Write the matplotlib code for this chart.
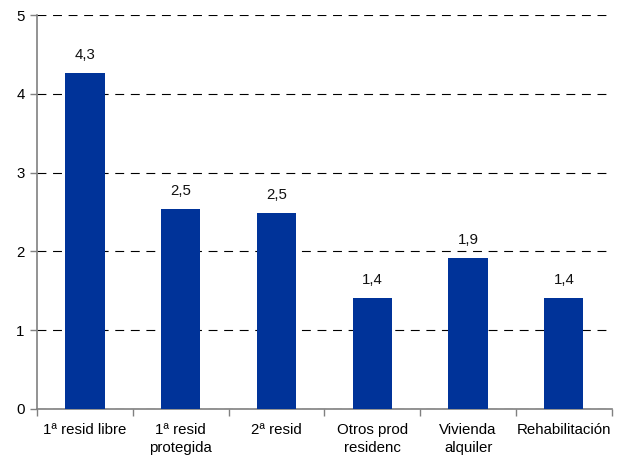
import matplotlib
matplotlib.use("Agg")
import matplotlib.pyplot as plt
import numpy as np

categories = ["1ª resid libre", "1ª resid\nprotegida", "2ª resid",
              "Otros prod\nresidenc", "Vivienda\nalquiler", "Rehabilitación"]
values = [4.26, 2.54, 2.49, 1.41, 1.92, 1.41]
y_ticks = [0, 1, 2, 3, 4, 5]

plt.rcParams["font.family"] = ["Liberation Sans", "DejaVu Sans"]
FS = 10.8

fig = plt.figure(figsize=(6.2, 4.69), dpi=100)
ax = fig.add_axes([0.0597, 0.128, 0.927, 0.84])

x = np.arange(len(categories))
bars = ax.bar(x, values, width=0.41, color="#003399", zorder=3)

for xi, v in zip(x, values):
    ax.annotate(f"{v:.1f}".replace(".", ","), (xi, v), xytext=(0, 8),
                textcoords="offset points", ha="center", va="bottom",
                fontsize=FS, color="#111111")

ax.set_xlim(-0.5, len(categories) - 0.5)
ax.set_ylim(0, 5)
ax.set_yticks(y_ticks)
ax.set_yticklabels([str(t) for t in y_ticks])

# category boundaries carry the tick marks, centres carry the labels
ax.set_xticks(np.arange(-0.5, len(categories), 1.0))
ax.set_xticklabels([])
ax.set_xticks(x, minor=True)
ax.set_xticklabels(categories, minor=True, linespacing=1.4)
ax.tick_params(axis="x", which="major", length=5, width=1, color="#808080", direction="out")
ax.tick_params(axis="x", which="minor", length=0, pad=10, labelsize=FS)
ax.tick_params(axis="y", length=5, width=1, color="#808080", pad=4, labelsize=FS)

ax.yaxis.grid(True, color="black", linewidth=0.8, linestyle=(0, (8, 6)), zorder=0)
ax.set_axisbelow(True)

for side in ("top", "right"):
    ax.spines[side].set_visible(False)
for side in ("left", "bottom"):
    ax.spines[side].set_color("#808080")
    ax.spines[side].set_linewidth(1.2)

fig.savefig("out.png", dpi=100)
